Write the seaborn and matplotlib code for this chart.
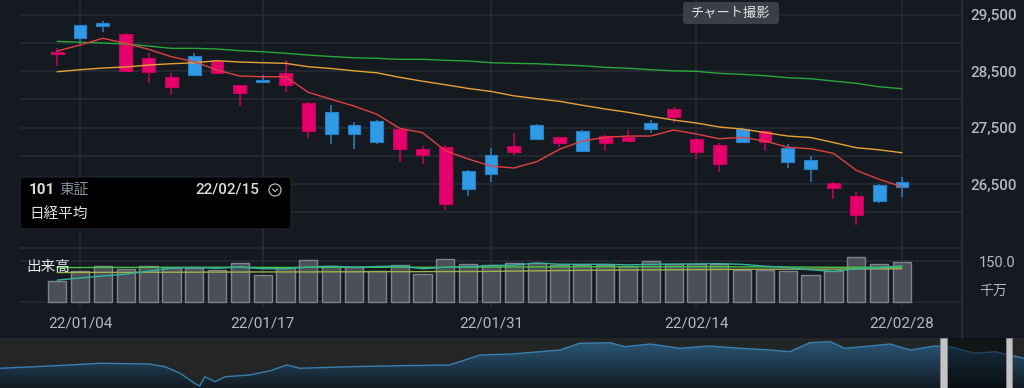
import numpy as np
import pandas as pd
import matplotlib
matplotlib.use("Agg")
import matplotlib.pyplot as plt
from matplotlib.patches import FancyBboxPatch, Rectangle, Circle
from matplotlib.colors import LinearSegmentedColormap
import seaborn as sns

# ---- values (Nikkei 225, daily) ----
dates = ["21/12/30", "22/01/04", "22/01/05", "22/01/06", "22/01/07", "22/01/11", "22/01/12",
         "22/01/13", "22/01/14", "22/01/17", "22/01/18", "22/01/19", "22/01/20", "22/01/21",
         "22/01/24", "22/01/25", "22/01/26", "22/01/27", "22/01/28", "22/01/31", "22/02/01",
         "22/02/02", "22/02/03", "22/02/04", "22/02/07", "22/02/08", "22/02/09", "22/02/10",
         "22/02/14", "22/02/15", "22/02/16", "22/02/17", "22/02/18", "22/02/21", "22/02/22",
         "22/02/24", "22/02/25", "22/02/28"]
opens = [28820, 29092, 29300, 29163, 28727, 28390, 28436, 28679, 28248, 28316,
         28461, 27940, 27390, 27390, 27248, 27479, 27119, 27149, 26410, 26670,
         27167, 27301, 27337, 27078, 27344, 27332, 27479, 27828, 27301, 27184,
         27248, 27443, 26883, 26759, 26516, 26291, 26202, 26440]
highs = [28904, 29323, 29388, 29170, 28816, 28461, 28816, 28690, 28260, 28431,
         28692, 27957, 27894, 27598, 27633, 27485, 27167, 27184, 26752, 27137,
         27397, 27556, 27340, 27450, 27367, 27456, 27633, 27869, 27310, 27220,
         27491, 27455, 27207, 26995, 26539, 26351, 26490, 26628]
lows = [28596, 28975, 29199, 28490, 28294, 28082, 28430, 28470, 27887, 28284,
        28135, 27314, 27208, 27119, 27208, 26894, 26853, 26037, 26286, 26539,
        27013, 27278, 27160, 27072, 27089, 27260, 27403, 27575, 26942, 26716,
        27220, 27083, 26782, 26539, 26227, 25777, 26156, 26263]
closes = [28810, 29317, 29358, 28497, 28479, 28213, 28773, 28475, 28106, 28342,
          28248, 27443, 27780, 27539, 27615, 27124, 27007, 26144, 26729, 27007,
          27060, 27550, 27231, 27443, 27231, 27266, 27585, 27686, 27060, 26848,
          27468, 27238, 27131, 26918, 26427, 25954, 26481, 26534]

# moving averages as drawn (5 / 25 / 75 days)
ma5 = [28856, 28963, 29082, 28993, 28887, 28755, 28667, 28520, 28413, 28401,
       28401, 28124, 28000, 27881, 27734, 27486, 27408, 27089, 26942, 26817,
       26782, 26894, 27114, 27261, 27326, 27349, 27349, 27456, 27385, 27301,
       27326, 27261, 27149, 27124, 27043, 26741, 26582, 26451]
ma25 = [28489, 28525, 28555, 28573, 28608, 28631, 28649, 28684, 28661, 28649,
        28638, 28578, 28546, 28505, 28470, 28390, 28321, 28259, 28193, 28140,
        28062, 28011, 27965, 27895, 27828, 27770, 27699, 27633, 27580, 27509,
        27473, 27411, 27349, 27323, 27234, 27142, 27105, 27053]
ma75 = [29028, 29011, 28998, 28981, 28945, 28904, 28904, 28892, 28862, 28844,
        28816, 28785, 28759, 28736, 28727, 28709, 28709, 28692, 28679, 28649,
        28638, 28631, 28613, 28596, 28567, 28550, 28525, 28505, 28496, 28461,
        28443, 28419, 28383, 28365, 28324, 28284, 28223, 28188]

# volume in 千万 shares
volume = [75.7, 112.3, 130.6, 121.9, 130.6, 124.4, 123.3, 117.1, 143.8, 99.9,
          124.4, 154.8, 130.6, 127.0, 112.3, 134.3, 103.6, 157.4, 138.0, 134.3,
          141.6, 141.6, 135.4, 136.5, 135.4, 130.6, 151.2, 140.2, 140.2, 139.1,
          118.2, 118.2, 114.6, 97.7, 113.5, 163.6, 139.1, 147.5]
vol_ma5 = [80, 88, 95, 102, 113, 124, 126.2, 123.5, 127.8, 121.7,
           121.7, 128, 130.7, 127.3, 129.8, 131.8, 121.6, 126.9, 129.1, 133.5,
           135, 142.6, 138.2, 137.9, 138.1, 135.9, 137.8, 138.8, 139.5, 140.3,
           137.8, 131.2, 126.1, 117.6, 112.4, 121.5, 125.7, 132.3]
vol_ma25 = [126, 126, 126.5, 126.5, 126.5, 127, 127, 127, 127, 126.5,
            126.5, 127, 127, 127, 127, 127.5, 127, 127, 127.5, 128,
            128, 128.5, 128.5, 129, 129, 129, 129, 129, 129, 129,
            128.5, 128.5, 128, 127.5, 127, 127, 127, 127.5]
vol_ma75 = [108, 108, 108.5, 108.5, 109, 109, 109, 109.5, 109.5, 110,
            110, 110, 110.5, 110.5, 111, 111, 111, 111.5, 111.5, 112,
            113, 114, 115, 116, 116.5, 117, 117.5, 118, 118.5, 119,
            119.5, 120, 120, 120.5, 120.5, 121, 121, 121.5]

tick_dates = ["22/01/04", "22/01/17", "22/01/31", "22/02/14", "22/02/28"]
price_ticks = [26500, 27500, 28500, 29500]
grid_levels = [26000, 26500, 27000, 27500, 28000, 28500, 29000, 29500]

# long history in the navigator strip (position in %, level)
nav_pos = [0, 4.9, 9.8, 14.6, 16.1, 17.6, 19.0, 19.5, 20.0, 21.0,
           22.0, 24.4, 26.4, 28.0, 29.3, 34.2, 39.1, 43.9, 45.4, 46.9,
           50.0, 54.7, 56.6, 59.6, 61.0, 63.5, 66.4, 69.3, 72.3, 75.2,
           77.1, 79.1, 81.1, 82.5, 85.0, 86.9, 88.9, 91.3, 92.8, 95.2,
           97.2, 98.6, 100]
nav_level = [19.7, 22, 24.7, 24, 21.3, 14.7, 4.7, 2, 11.3, 6.3,
             11.3, 13, 17.3, 23, 19.7, 21.3, 22.3, 23, 28, 33,
             34, 38, 44.7, 45.3, 41.3, 44, 39.7, 42, 39.7, 38,
             36.3, 45.3, 46.3, 39.7, 42, 44, 38, 42, 41.3, 34.7,
             36.3, 33, 29.7]

# ---- style ----
W, H = 1024, 388
BG = "#151a21"
GRID = "#262b34"
UP, UP_EDGE = "#2f9ae6", "#2a7fc2"
DOWN, DOWN_EDGE = "#e6006b", "#c8005d"
LABEL = "#b4b8bf"


def frac(left, top, right, bottom):
    # pixel box -> figure fraction
    return [left / W, 1 - bottom / H, (right - left) / W, (bottom - top) / H]


sns.set_theme(style="dark", rc={"axes.facecolor": BG, "figure.facecolor": BG})
plt.rcParams['font.family'] = ['Roboto', 'Noto Sans CJK JP', 'DejaVu Sans']

fig = plt.figure(figsize=(10.24, 3.88), dpi=100, facecolor=BG)

df = pd.DataFrame({"i": np.arange(len(dates)), "date": dates, "open": opens, "high": highs,
                   "low": lows, "close": closes, "ma5": ma5, "ma25": ma25, "ma75": ma75,
                   "volume": volume, "vma5": vol_ma5, "vma25": vol_ma25, "vma75": vol_ma75})
df["up"] = df["close"] >= df["open"]
tick_pos = [dates.index(d) for d in tick_dates]
xlim = (-1.63, 39.63)

# ===== price panel =====
ax = fig.add_axes(frac(20, 0, 962, 248))
ax.set_facecolor(BG)
for lvl in grid_levels:
    ax.axhline(lvl, color=GRID, lw=1.2, zorder=0)
for p in tick_pos:
    ax.axvline(p, color=GRID, lw=1.2, zorder=0)

face = np.where(df["up"], UP, DOWN)
edge = np.where(df["up"], UP_EDGE, DOWN_EDGE)
ax.vlines(df["i"], df["low"], df["high"], colors=edge, lw=1.1, zorder=2)
body_low = df[["open", "close"]].min(axis=1)
body_h = (df["close"] - df["open"]).abs().clip(lower=22)
ax.bar(df["i"], body_h, bottom=body_low, width=0.56, color=face, edgecolor=edge,
       linewidth=0.8, zorder=3)

sns.lineplot(data=df, x="i", y="ma75", ax=ax, color="#27a83c", lw=1.0, zorder=4)
sns.lineplot(data=df, x="i", y="ma25", ax=ax, color="#e9a233", lw=1.0, zorder=4)
sns.lineplot(data=df, x="i", y="ma5", ax=ax, color="#e2403f", lw=1.0, zorder=4)

ax.set_xlim(*xlim)
ax.set_ylim(25364, 29761)
ax.set_xticks([])
ax.yaxis.tick_right()
ax.set_yticks(price_ticks)
ax.set_yticklabels([f"{v:,}" for v in price_ticks])
ax.tick_params(axis="y", length=0, pad=6, labelsize=11, labelcolor=LABEL)
for lab in ax.get_yticklabels():
    lab.set_fontweight("medium")
ax.set_xlabel("")
ax.set_ylabel("")
for s in ax.spines.values():
    s.set_visible(False)

# ===== volume panel =====
axv = fig.add_axes(frac(20, 248, 962, 308))
axv.set_facecolor(BG)
axv.axhline(0, color=GRID, lw=1.2, zorder=0)
axv.axhline(150, color=GRID, lw=1.2, zorder=0)
for p in tick_pos:
    axv.axvline(p, color=GRID, lw=1.2, zorder=0)
sns.barplot(data=df, x="i", y="volume", native_scale=True, width=0.8, color="#4a4f58",
            saturation=1, edgecolor="#7f848c", linewidth=1, errorbar=None, ax=axv, zorder=2)
sns.lineplot(data=df, x="i", y="vma75", ax=axv, color="#a2b24c", lw=1.0, zorder=4)
sns.lineplot(data=df, x="i", y="vma25", ax=axv, color="#4cc248", lw=1.0, zorder=4)
sns.lineplot(data=df, x="i", y="vma5", ax=axv, color="#33b3a0", lw=1.0, zorder=4)
axv.set_xlim(*xlim)
axv.set_ylim(-22, 197.6)
axv.set_xticks(tick_pos)
axv.set_xticklabels(tick_dates)
axv.tick_params(axis="x", length=0, pad=6, labelsize=11, labelcolor=LABEL)
axv.yaxis.tick_right()
axv.set_yticks([150])
axv.set_yticklabels(["150.0"])
axv.tick_params(axis="y", length=0, pad=12, labelsize=10.5, labelcolor=LABEL)
axv.set_xlabel("")
axv.set_ylabel("")
for s in axv.spines.values():
    s.set_visible(False)
axv.spines["top"].set_visible(True)
axv.spines["top"].set_color(GRID)
axv.spines["top"].set_linewidth(1.2)

# ===== navigator strip =====
axn = fig.add_axes(frac(0, 338, 1024, 388))
axn.set_facecolor("#242527")
axn.set_xlim(0, 100)
axn.set_ylim(0, 50)
area = axn.fill_between(nav_pos, nav_level, 0, color="none")
cmap = LinearSegmentedColormap.from_list("nav", ["#131c24", "#2b5a7c"])
grad = np.linspace(0, 1, 100).reshape(-1, 1)
im = axn.imshow(grad, extent=[0, 100, 0, 50], aspect="auto", cmap=cmap, origin="lower",
                vmin=0, vmax=1, zorder=1)
im.set_clip_path(area.get_paths()[0], transform=axn.transData)
sns.lineplot(x=nav_pos, y=nav_level, ax=axn, color="#3a7fb0", lw=1.0, zorder=2)
axn.add_patch(Rectangle((92.1, 0), 6.4, 50, color="#000000", alpha=0.45, zorder=3))
for hx in (91.8, 98.2):
    axn.add_patch(Rectangle((hx, 0), 0.65, 50, facecolor="#c4c4c4", edgecolor="#8d8d8d",
                            lw=0.6, zorder=4))
axn.set_xticks([])
axn.set_yticks([])
axn.set_xlabel("")
axn.set_ylabel("")
for s in axn.spines.values():
    s.set_visible(False)

# ===== overlay: labels, tooltip, button =====
ov = fig.add_axes([0, 0, 1, 1], facecolor="none")
ov.set_xlim(0, W)
ov.set_ylim(H, 0)
ov.axis("off")
ov.plot([962, 962], [0, 338], color="#2c313a", lw=1.2)

ov.text(26, 267, "出来高", fontsize=10.5, color="#e6e6e6", va="center", ha="left")
ov.text(993, 291, "千万", fontsize=10, color=LABEL, va="center", ha="center")

ov.add_patch(FancyBboxPatch((20, 177), 271, 52, boxstyle="round,pad=0,rounding_size=4",
                            fc="#000000", ec="#22262d", lw=0.8))
ov.text(29, 190, "101", fontsize=11, fontweight="bold", color="#dcdcdc", va="center")
ov.text(59, 190, "東証", fontsize=10.5, color="#8794a4", va="center")
ov.text(259, 190, "22/02/15", fontsize=11, fontweight="medium", color="#dcdcdc",
        va="center", ha="right")
ov.add_patch(Circle((275, 190), 6, fill=False, ec="#b8b8b8", lw=0.9))
ov.plot([272.5, 275, 277.5], [189, 191.5, 189], color="#b8b8b8", lw=0.9)
ov.text(29, 214, "日経平均", fontsize=10.5, color="#e2e2e2", va="center")

ov.add_patch(FancyBboxPatch((683, 2), 96, 22, boxstyle="round,pad=0,rounding_size=3",
                            fc="#3a3f48", ec="none"))
ov.text(731, 13.5, "チャート撮影", fontsize=9.5, color="#e4e4e4", va="center", ha="center")

fig.savefig("out.png", dpi=100, facecolor=BG)
